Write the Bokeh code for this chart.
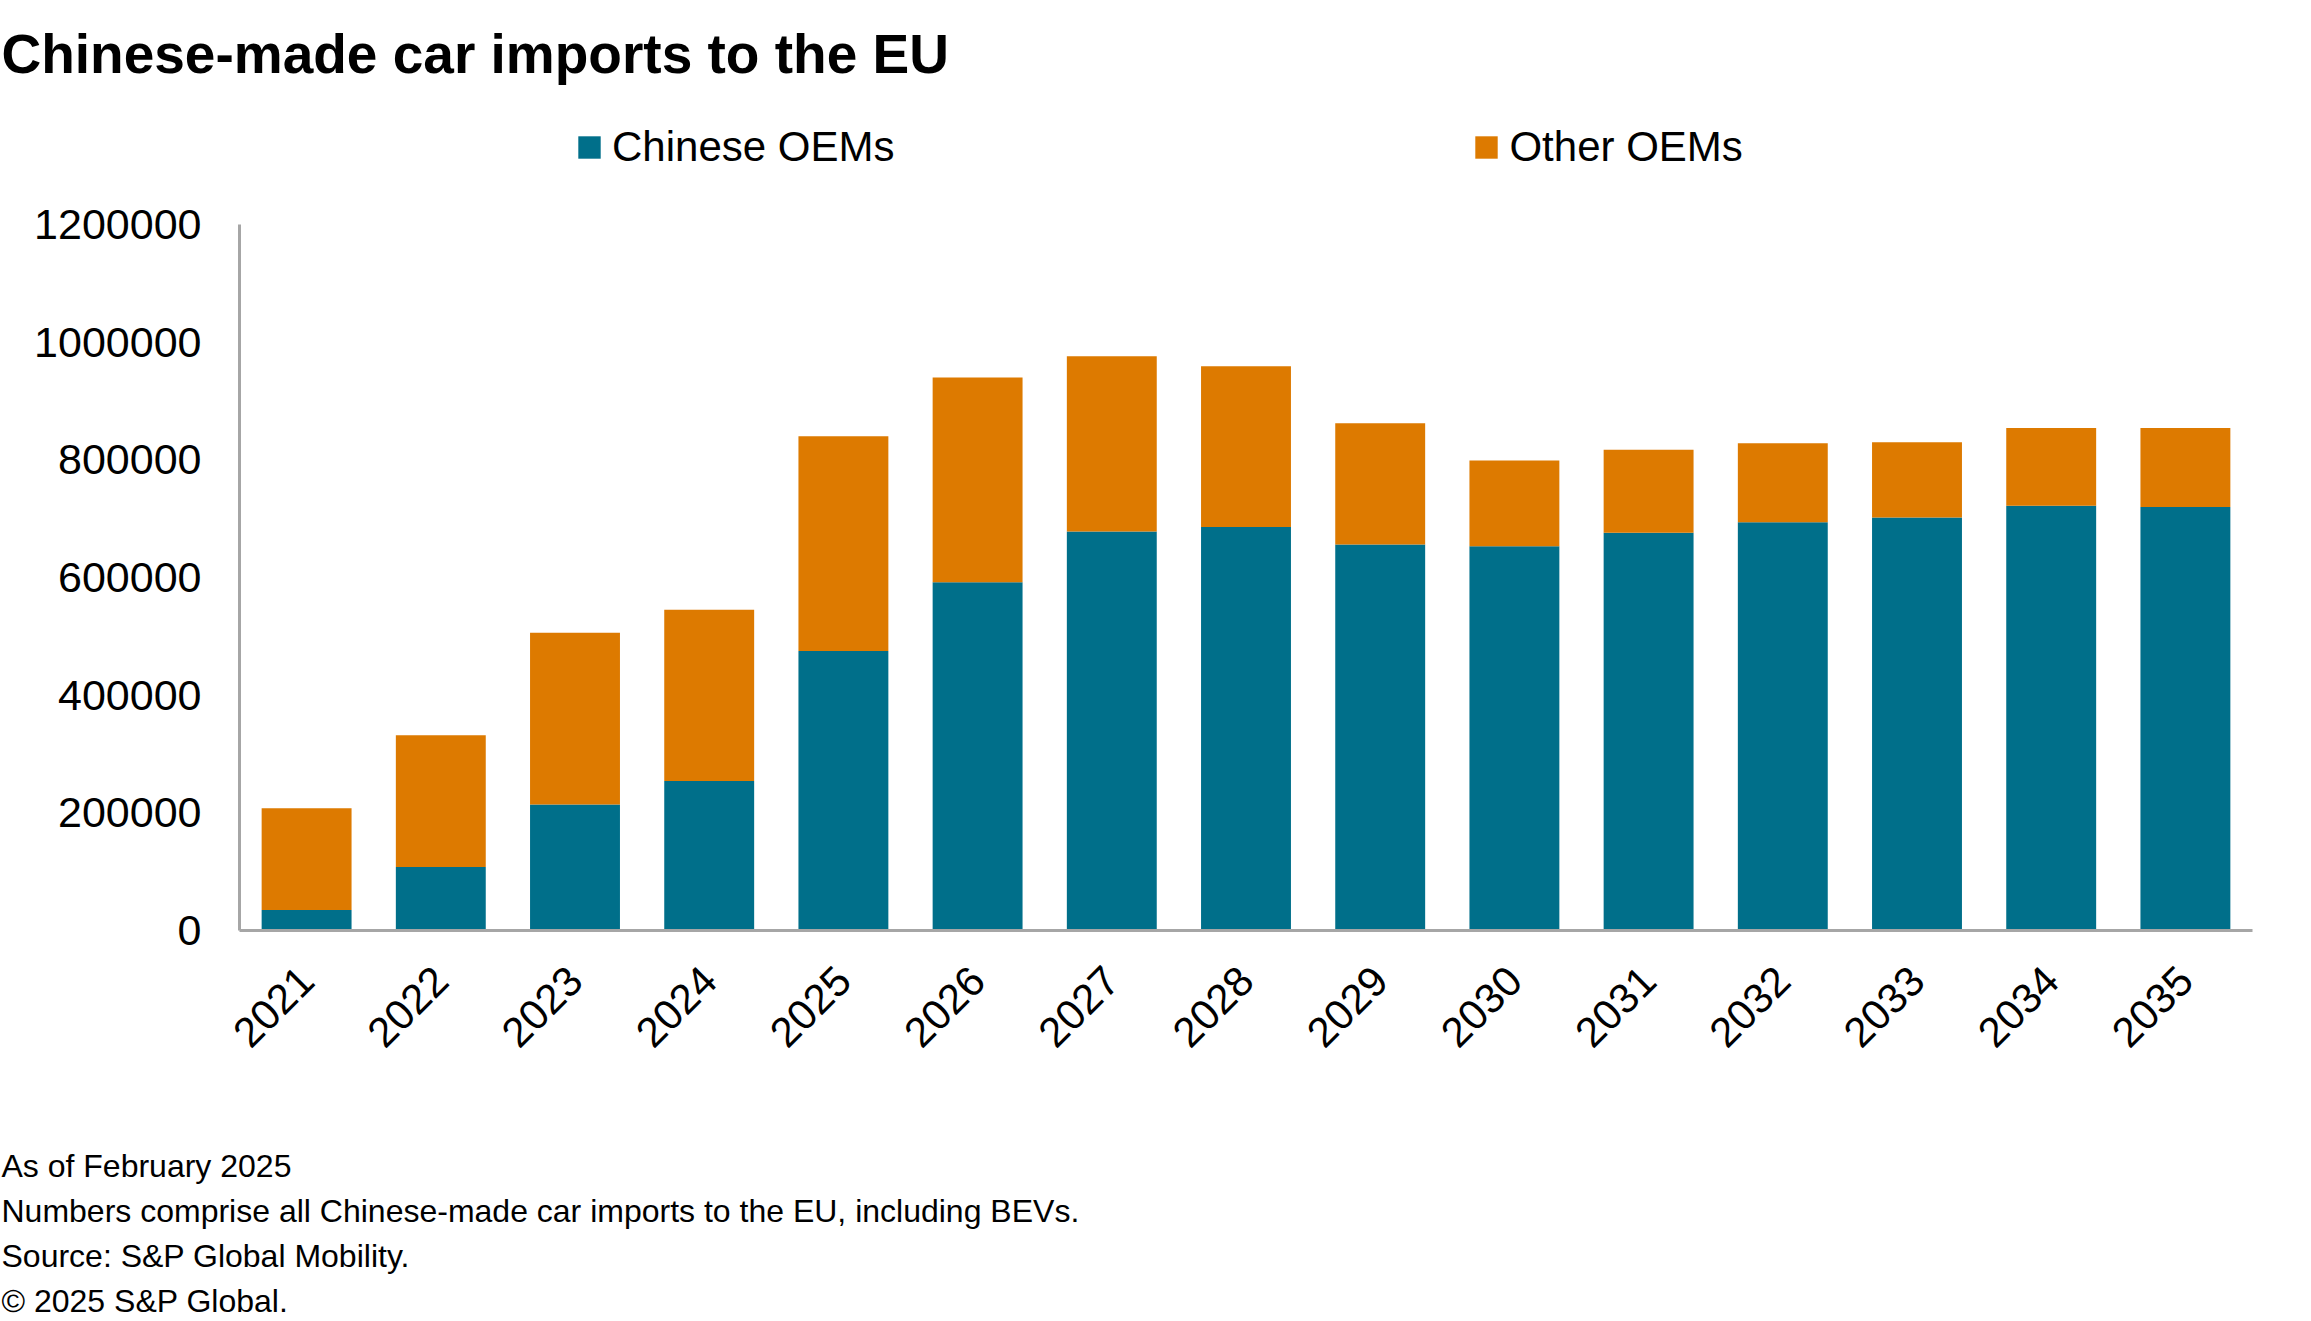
import math
from bokeh.plotting import figure
from bokeh.layouts import column
from bokeh.models import (Range1d, FixedTicker, Label, Legend, LegendItem,
                          ColumnDataSource, NumeralTickFormatter)
from bokeh.embed import file_html
from bokeh.resources import INLINE

# ---- data ----
years = ["2021", "2022", "2023", "2024", "2025", "2026", "2027", "2028",
         "2029", "2030", "2031", "2032", "2033", "2034", "2035"]
chinese_oems = [35000, 108000, 214000, 254000, 475000, 592000, 678000, 686000,
                656000, 653000, 676000, 694000, 702000, 722000, 720000]
other_oems = [173000, 224000, 292000, 291000, 365000, 348000, 298000, 273000,
              206000, 146000, 141000, 134000, 128000, 132000, 134000]
series_names = ["Chinese OEMs", "Other OEMs"]
y_ticks = [0, 200000, 400000, 600000, 800000, 1000000, 1200000]
title_text = "Chinese-made car imports to the EU"
notes = ["As of February 2025",
         "Numbers comprise all Chinese-made car imports to the EU, including BEVs.",
         "Source: S&P Global Mobility.",
         "\u00a9 2025 S&P Global."]

# ---- style / geometry (canvas pixels) ----
W, H = 2311, 1321
FL, FR, FT, FB = 239, 2252, 224, 930      # plot frame: left, right, y(max tick), y(0)
HEAD_H = 100                               # header strip height
FOOT_TOP = 1120                            # footer strip starts here
COLORS = ["#006F8A", "#DD7A00"]
FONT = "Liberation Sans"
YMAX = 1200000


def text_strip(h):
    f = figure(width=W, height=h, x_range=Range1d(0, W), y_range=Range1d(h, 0),
               x_axis_type=None, y_axis_type=None, min_border=0,
               frame_align=False,
               output_backend="svg", toolbar_location=None)
    f.outline_line_color = None
    f.background_fill_color = "white"
    f.border_fill_color = "white"
    return f


# ---- header (title) ----
head = text_strip(HEAD_H)
head.add_layout(Label(x=1, y=53, text=title_text, text_font=FONT,
                      text_font_size="55px", text_font_style="bold",
                      text_color="black", text_baseline="alphabetic",
                      text_align="left"))

# ---- main chart ----
MAIN_H = FOOT_TOP - HEAD_H
frame_h = FB - HEAD_H
y_end = YMAX * frame_h / (FB - FT)

idx = list(range(len(years)))
src = ColumnDataSource(dict(x=idx, chinese=chinese_oems, other=other_oems))

p = figure(width=W, height=MAIN_H,
           x_range=Range1d(-0.5, len(years) - 0.5), y_range=Range1d(0, y_end),
           min_border_left=FL, min_border_right=W - FR,
           min_border_top=0, min_border_bottom=MAIN_H - frame_h,
           frame_align=False,
           output_backend="svg", toolbar_location=None)
p.outline_line_color = None
p.xgrid.visible = False
p.ygrid.visible = False
p.background_fill_color = "white"
p.border_fill_color = "white"

rs = p.vbar_stack(["chinese", "other"], x="x", width=0.67, source=src,
                  color=COLORS, line_width=0)

for ax in (p.xaxis[0], p.yaxis[0]):
    ax.axis_line_color = "#A6A6A6"
    ax.axis_line_width = 3
    ax.major_tick_line_color = None
    ax.minor_tick_line_color = None
    ax.major_tick_out = 0
    ax.major_tick_in = 0
    ax.minor_tick_out = 0
    ax.minor_tick_in = 0
    ax.major_label_text_font = FONT
    ax.major_label_text_color = "black"

p.yaxis[0].ticker = FixedTicker(ticks=y_ticks)
p.yaxis[0].formatter = NumeralTickFormatter(format="0")
p.yaxis[0].major_label_standoff = 38
p.yaxis[0].major_label_text_font_size = "43px"
p.yaxis[0].bounds = (0, YMAX)

p.xaxis[0].ticker = FixedTicker(ticks=idx)
p.xaxis[0].major_label_overrides = {i: y for i, y in zip(idx, years)}
p.xaxis[0].major_label_orientation = math.pi / 4
p.xaxis[0].major_label_standoff = 43
p.xaxis[0].major_label_text_font_size = "42px"

legend = Legend(items=[LegendItem(label=series_names[0], renderers=[rs[0]]),
                       LegendItem(label=series_names[1], renderers=[rs[1]])],
                orientation="horizontal", location=(575 - FL, FB - 171),
                glyph_width=28, glyph_height=28, label_standoff=9, spacing=578,
                padding=0, margin=0, border_line_color=None,
                background_fill_alpha=0, label_text_font=FONT,
                label_text_font_size="42px", label_text_color="black",
                label_height=28)
p.add_layout(legend)

# ---- footer (notes) ----
foot = text_strip(H - FOOT_TOP)
for i, t in enumerate(notes):
    foot.add_layout(Label(x=1, y=1165 - FOOT_TOP + i * 45.2, text=t,
                          text_font=FONT, text_font_size="32px",
                          text_color="black", text_baseline="middle",
                          text_align="left"))

layout = column(head, p, foot, spacing=0)
open("out.html", "w").write(file_html(layout, INLINE))
